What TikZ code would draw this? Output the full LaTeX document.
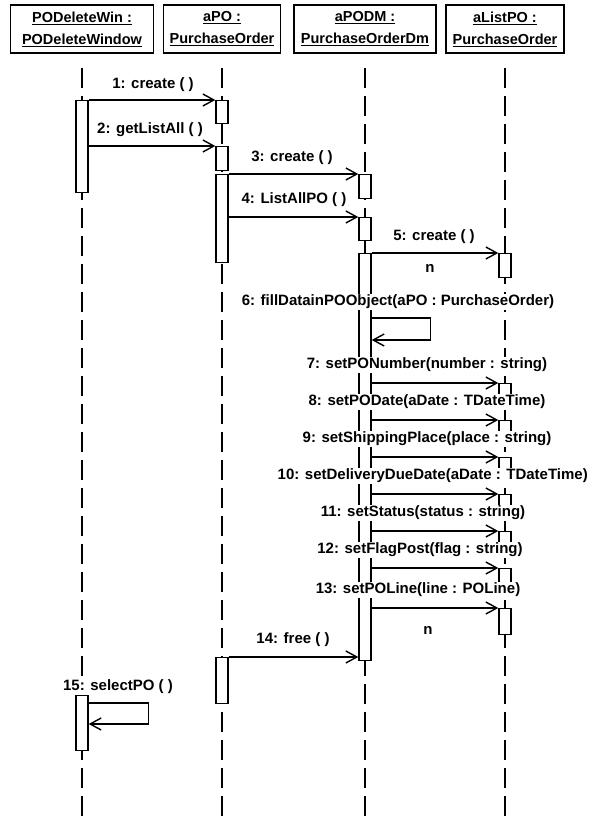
\documentclass[tikz,border=0pt]{standalone}
\usepackage{fontspec}
\setmainfont{Liberation Sans}
\usetikzlibrary{arrows.meta}
\begin{document}
\begin{tikzpicture}[x=1pt,y=-1pt,
  txt/.style={font=\fontsize{15pt}{18pt}\selectfont\bfseries},
  hdr/.style={draw, line width=1.6pt, minimum height=48pt, inner sep=1pt, align=center,
    font=\fontsize{14.5pt}{22pt}\selectfont\bfseries},
  life/.style={line width=1.3pt, dash pattern=on 20pt off 8pt},
  act/.style={draw, fill=white, line width=1.4pt, minimum width=12pt, inner sep=0pt, anchor=north},
  msg/.style={line width=1.4pt, -{Straight Barb[length=11pt,width=12pt,line width=1.4pt]}},
  lbl/.style={txt, fill=white, inner sep=1pt},
  plain/.style={txt, inner sep=1pt}
]
\useasboundingbox (0,0) rectangle (589,818);
\fill[white] (0,0) rectangle (589,818);

% headers
\node[hdr, minimum width=143pt] (h1) at (82,29) {\underline{PODeleteWin :}\\\underline{PODeleteWindow}};
\node[hdr, minimum width=117pt] (h2) at (222,29) {\underline{aPO :}\\\underline{PurchaseOrder}};
\node[hdr, minimum width=142pt] (h3) at (365,29) {\underline{aPODM :}\\\underline{PurchaseOrderDm}};
\node[hdr, minimum width=118pt] (h4) at (505,29) {\underline{aListPO :}\\\underline{PurchaseOrder}};

% lifelines
\coordinate (t1) at (82,68);  \coordinate (e1) at (82,818);
\coordinate (t2) at (222,68); \coordinate (e2) at (222,818);
\coordinate (t3) at (365,68); \coordinate (e3) at (365,818);
\coordinate (t4) at (505,68); \coordinate (e4) at (505,818);
\draw[life] (t1) -- (e1);
\draw[life] (t2) -- (e2);
\draw[life] (t3) -- (e3);
\draw[life] (t4) -- (e4);

% activations
\node[act, minimum height=92pt] (a1) at (82,100) {};
\node[act, minimum height=55pt] (a2) at (82,695) {};
\node[act, minimum height=23pt] (b1) at (222,100) {};
\node[act, minimum height=24pt] (b2) at (222,146) {};
\node[act, minimum height=88pt] (b3) at (222,174) {};
\node[act, minimum height=46pt] (b4) at (222,657) {};
\node[act, minimum height=24pt] (c1) at (365,174) {};
\node[act, minimum height=23pt] (c2) at (365,217) {};
\node[act, minimum height=407pt] (c3) at (365,253) {};
\node[act, minimum height=24pt] (d1) at (505,253) {};
\node[act, minimum height=16pt] (d7) at (505,383) {};
\node[act, minimum height=16pt] (d8) at (505,420) {};
\node[act, minimum height=16pt] (d9) at (505,457) {};
\node[act, minimum height=16pt] (d10) at (505,494) {};
\node[act, minimum height=16pt] (d11) at (505,531) {};
\node[act, minimum height=16pt] (d12) at (505,568) {};
\node[act, minimum height=26pt] (d2) at (505,608) {};

% messages
\draw[msg] (a1.north east) -- (b1.north west);
\draw[msg] (a1.east |- b2.north) -- (b2.north west);
\draw[msg] (b3.north east) -- (c1.north west);
\draw[msg] (b3.east |- c2.north) -- (c2.north west);
\draw[msg] (c3.north east) -- (d1.north west);
\draw[msg] (c3.east |- 0,318) -- ++(59,0) -- ++(0,22) -- (c3.east |- 0,340);
\draw[msg] (c3.east |- d7.north) -- (d7.north west);
\draw[msg] (c3.east |- d8.north) -- (d8.north west);
\draw[msg] (c3.east |- d9.north) -- (d9.north west);
\draw[msg] (c3.east |- d10.north) -- (d10.north west);
\draw[msg] (c3.east |- d11.north) -- (d11.north west);
\draw[msg] (c3.east |- d12.north) -- (d12.north west);
\draw[msg] (c3.east |- d2.north) -- (d2.north west);
\draw[msg] (b4.north east) -- (b4.north east -| c3.west);
\draw[msg] (a2.east |- 0,703) -- ++(60,0) -- ++(0,21) -- (a2.east |- 0,724);

% labels
\node[lbl] (m1) at (153,85) {1: create ( )};
\node[lbl] (m2) at (150,130) {2: getListAll ( )};
\node[lbl] (m3) at (292,158) {3: create ( )};
\node[lbl] (m4) at (294,200) {4: ListAllPO ( )};
\node[lbl] (m5) at (434,237) {5: create ( )};
\node[plain] (n5) at (430,268) {n};
\node[lbl] (m6) at (398,302) {6: fillDatainPOObject(aPO : PurchaseOrder)};
\node[lbl] (m7) at (427,365) {7: setPONumber(number : string)};
\node[lbl] (m8) at (427,402) {8: setPODate(aDate : TDateTime)};
\node[lbl] (m9) at (427,439) {9: setShippingPlace(place : string)};
\node[lbl, anchor=east] (m10) at (589,476) {10: setDeliveryDueDate(aDate : TDateTime)};
\node[lbl] (m11) at (423,513) {11: setStatus(status : string)};
\node[lbl] (m12) at (420,550) {12: setFlagPost(flag : string)};
\node[lbl] (m13) at (418,590) {13: setPOLine(line : POLine)};
\node[plain] (n13) at (428,630) {n};
\node[lbl] (m14) at (293,640) {14: free ( )};
\node[lbl] (m15) at (118,687) {15: selectPO ( )};
\end{tikzpicture}
\end{document}
